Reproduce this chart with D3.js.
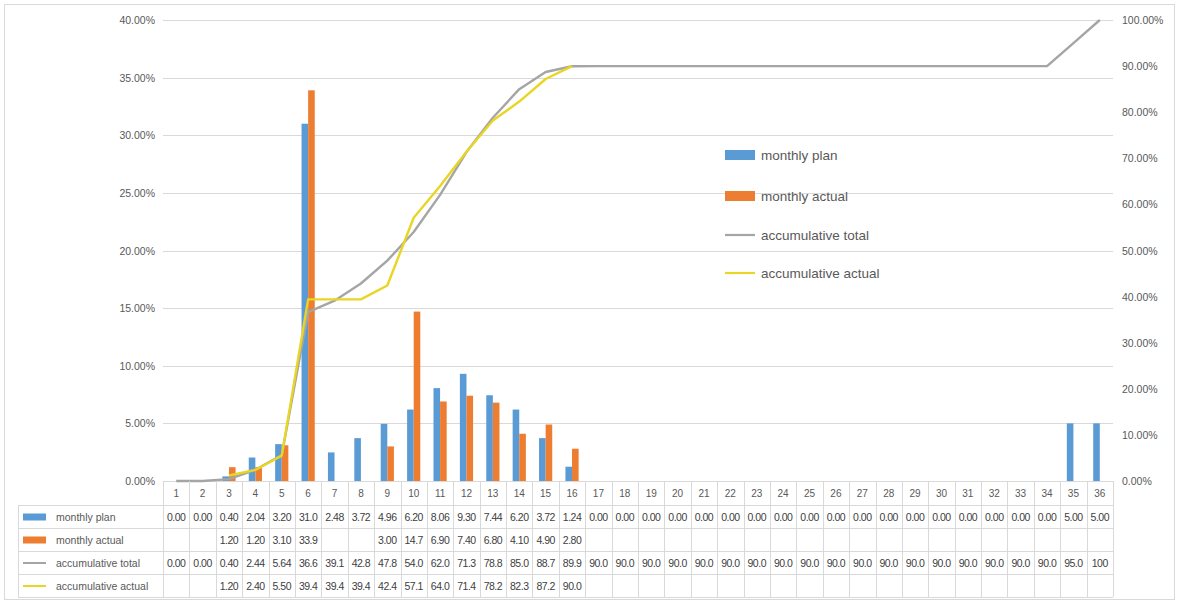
<!DOCTYPE html>
<html>
<head>
<meta charset="utf-8">
<script src="https://cdn.jsdelivr.net/npm/d3@7"></script>
<style>
  body { margin: 0; background: #fff; }
  svg { display: block; font-family: "Liberation Sans", Arial, sans-serif; }
</style>
</head>
<body>
<svg id="chart" width="1179" height="602"></svg>
<script>
// Data (percent values)
const categories = d3.range(1, 37).map(String);
const monthlyPlan = [0, 0, 0.40, 2.04, 3.20, 31.00, 2.48, 3.72, 4.96, 6.20, 8.06, 9.30, 7.44, 6.20, 3.72, 1.24,
  0, 0, 0, 0, 0, 0, 0, 0, 0, 0, 0, 0, 0, 0, 0, 0, 0, 0, 5.00, 5.00];
const monthlyActual = [null, null, 1.20, 1.20, 3.10, 33.90, null, null, 3.00, 14.70, 6.90, 7.40, 6.80, 4.10, 4.90, 2.80];
const accumTotal = [0, 0, 0.40, 2.44, 5.64, 36.64, 39.12, 42.84, 47.80, 54.00, 62.06, 71.36, 78.80, 85.00, 88.72, 89.96,
  90, 90, 90, 90, 90, 90, 90, 90, 90, 90, 90, 90, 90, 90, 90, 90, 90, 90, 95.00, 100.00];
const accumActual = [null, null, 1.20, 2.40, 5.50, 39.40, 39.40, 39.40, 42.40, 57.10, 64.00, 71.40, 78.20, 82.30, 87.20, 90.00];
const leftTicks = d3.range(0, 41, 5);
const rightTicks = d3.range(0, 101, 10);

const colors = { plan: '#5B9BD5', actual: '#ED7D31', total: '#A5A5A5', accActual: '#E9D523' };
const textColor = '#595959';
const gridColor = '#D9D9D9';

const svg = d3.select('#chart');

// Chart frame
svg.append('rect')
  .attr('x', 4.5).attr('y', 4.5).attr('width', 1170).attr('height', 595)
  .attr('fill', 'none').attr('stroke', gridColor);

// Scales
const plot = { left: 163, right: 1113, top: 20, bottom: 481 };

const x = d3.scaleBand()
  .domain(categories)
  .range([plot.left, plot.right])
  .paddingInner(0).paddingOuter(0);

const yL = d3.scaleLinear().domain([0, 40]).range([plot.bottom, plot.top]);
const yR = d3.scaleLinear().domain([0, 100]).range([plot.bottom, plot.top]);

const barW = 6.6;
const cx = (i) => x(categories[i]) + x.bandwidth() / 2;

// Gridlines + axis labels
const fmt = (v) => v.toFixed(2) + '%';

svg.append('g')
  .selectAll('line')
  .data(leftTicks)
  .join('line')
  .attr('x1', plot.left).attr('x2', plot.right)
  .attr('y1', (d) => Math.round(yL(d)) + 0.5).attr('y2', (d) => Math.round(yL(d)) + 0.5)
  .attr('stroke', gridColor).attr('stroke-width', 1);

svg.append('g')
  .selectAll('text')
  .data(leftTicks)
  .join('text')
  .attr('x', 155).attr('y', (d) => yL(d))
  .attr('dominant-baseline', 'central')
  .attr('text-anchor', 'end')
  .style('font-size', '10.5px').style('fill', textColor)
  .text(fmt);

svg.append('g')
  .selectAll('text')
  .data(rightTicks)
  .join('text')
  .attr('x', 1122).attr('y', (d) => yR(d))
  .attr('dominant-baseline', 'central')
  .attr('text-anchor', 'start')
  .style('font-size', '10.5px').style('fill', textColor)
  .text(fmt);

// Bars
svg.append('g')
  .selectAll('rect')
  .data(monthlyPlan.map((v, i) => ({ v, i })).filter((d) => d.v > 0))
  .join('rect')
  .attr('x', (d) => cx(d.i) - barW)
  .attr('y', (d) => yL(d.v))
  .attr('width', barW)
  .attr('height', (d) => plot.bottom - yL(d.v))
  .attr('fill', colors.plan);

svg.append('g')
  .selectAll('rect')
  .data(monthlyActual.map((v, i) => ({ v, i })).filter((d) => d.v != null))
  .join('rect')
  .attr('x', (d) => cx(d.i))
  .attr('y', (d) => yL(d.v))
  .attr('width', barW)
  .attr('height', (d) => plot.bottom - yL(d.v))
  .attr('fill', colors.actual);

// Lines (right axis)
const line = d3.line()
  .defined((d) => d.v != null)
  .x((d) => cx(d.i))
  .y((d) => yR(d.v));

svg.append('path')
  .attr('d', line(accumTotal.map((v, i) => ({ v, i }))))
  .attr('fill', 'none').attr('stroke', colors.total).attr('stroke-width', 2.4)
  .attr('stroke-linejoin', 'round');

svg.append('path')
  .attr('d', line(accumActual.map((v, i) => ({ v, i }))))
  .attr('fill', 'none').attr('stroke', colors.accActual).attr('stroke-width', 2.4)
  .attr('stroke-linejoin', 'round');

// In-plot legend
const legendItems = [
  { name: 'monthly plan', type: 'rect', color: colors.plan, y: 155 },
  { name: 'monthly actual', type: 'rect', color: colors.actual, y: 196 },
  { name: 'accumulative total', type: 'line', color: colors.total, y: 235 },
  { name: 'accumulative actual', type: 'line', color: colors.accActual, y: 273 },
];
const lg = svg.append('g');
legendItems.forEach((d) => {
  if (d.type === 'rect') {
    lg.append('rect').attr('x', 725).attr('y', d.y - 5).attr('width', 30).attr('height', 10).attr('fill', d.color);
  } else {
    lg.append('line').attr('x1', 725).attr('x2', 755).attr('y1', d.y).attr('y2', d.y)
      .attr('stroke', d.color).attr('stroke-width', 2.2);
  }
  lg.append('text').attr('x', 761).attr('y', d.y)
    .attr('dominant-baseline', 'central')
    .style('font-size', '13.5px').style('fill', textColor)
    .text(d.name);
});

// Data table
const tableLeft = 18;
const rowTops = [505, 528, 551, 574, 597];
const tbl = svg.append('g');

// category labels
tbl.selectAll('text.cat')
  .data(categories)
  .join('text')
  .attr('class', 'cat')
  .attr('x', (d) => x(d) + x.bandwidth() / 2)
  .attr('y', 493)
  .attr('dominant-baseline', 'central')
  .attr('text-anchor', 'middle')
  .style('font-size', '10px').style('fill', textColor)
  .text((d) => d);

// horizontal rules
tbl.selectAll('line.h')
  .data(rowTops)
  .join('line')
  .attr('class', 'h')
  .attr('x1', tableLeft).attr('x2', plot.right)
  .attr('y1', (d) => d + 0.5).attr('y2', (d) => d + 0.5)
  .attr('stroke', gridColor);

// vertical rules
const bounds = categories.map((c) => x(c)).concat([plot.right]);
tbl.selectAll('line.v')
  .data(bounds)
  .join('line')
  .attr('class', 'v')
  .attr('x1', (d) => Math.round(d) + 0.5).attr('x2', (d) => Math.round(d) + 0.5)
  .attr('y1', plot.bottom).attr('y2', 597)
  .attr('stroke', gridColor);
tbl.append('line')
  .attr('x1', tableLeft + 0.5).attr('x2', tableLeft + 0.5)
  .attr('y1', 505).attr('y2', 597).attr('stroke', gridColor);

const rows = [
  { name: 'monthly plan', values: monthlyPlan, type: 'rect', color: colors.plan },
  { name: 'monthly actual', values: monthlyActual, type: 'rect', color: colors.actual },
  { name: 'accumulative total', values: accumTotal, type: 'line', color: colors.total },
  { name: 'accumulative actual', values: accumActual, type: 'line', color: colors.accActual },
];

const cellText = (v) => {
  let s = v.toFixed(2).slice(0, 4);
  if (s.endsWith('.')) s = s.slice(0, -1);
  return s;
};

rows.forEach((r, k) => {
  const cy = (rowTops[k] + rowTops[k + 1]) / 2 + 0.5;
  if (r.type === 'rect') {
    tbl.append('rect').attr('x', 23).attr('y', cy - 3.5).attr('width', 23).attr('height', 7).attr('fill', r.color);
  } else {
    tbl.append('line').attr('x1', 23).attr('x2', 46).attr('y1', cy).attr('y2', cy)
      .attr('stroke', r.color).attr('stroke-width', 2);
  }
  tbl.append('text').attr('x', 56).attr('y', cy)
    .attr('dominant-baseline', 'central')
    .style('font-size', '10.5px').style('fill', textColor)
    .text(r.name);

  tbl.append('g')
    .selectAll('text')
    .data(r.values.map((v, i) => ({ v, i })).filter((d) => d.v != null))
    .join('text')
    .attr('x', (d) => cx(d.i))
    .attr('y', cy)
    .attr('dominant-baseline', 'central')
    .attr('text-anchor', 'middle')
    .style('font-size', '10.5px').style('fill', '#404040')
    .style('letter-spacing', '-0.5px')
    .text((d) => cellText(d.v));
});
</script>
</body>
</html>
